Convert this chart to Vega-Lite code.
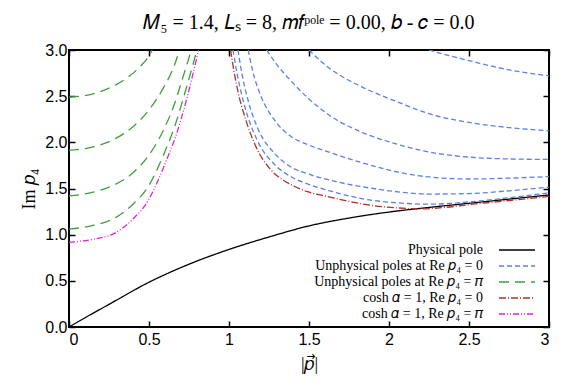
{
  "$schema": "https://vega.github.io/schema/vega-lite/v6.json",
  "width": 480,
  "height": 277,
  "autosize": {"type": "none"},
  "padding": {"left": 69, "top": 50, "right": 23, "bottom": 55},
  "background": "white",
  "title": {
    "text": "𝑀₅ = 1.4, 𝐿ₛ = 8, 𝑚𝑓ᵖᵒˡᵉ = 0.00, 𝑏 - 𝑐 = 0.0",
    "font": "Liberation Serif",
    "fontSize": 20,
    "fontWeight": "normal",
    "color": "black",
    "anchor": "middle",
    "frame": "group",
    "offset": 9
  },
  "config": {
    "view": {"stroke": "black", "strokeWidth": 2},
    "axis": {
      "domain": false,
      "grid": false,
      "tickColor": "black",
      "tickWidth": 1.5,
      "tickSize": -6,
      "labelFont": "Liberation Sans",
      "labelFontSize": 16,
      "labelColor": "black",
      "titleFont": "Liberation Serif",
      "titleFontSize": 18,
      "titleFontWeight": "normal",
      "titleColor": "black"
    },
    "legend": {
      "orient": "none",
      "legendX": 441,
      "legendY": 193,
      "labelFont": "Liberation Serif",
      "labelFontSize": 14,
      "labelColor": "black",
      "labelAlign": "right",
      "labelOffset": -41,
      "labelLimit": 400,
      "symbolType": "M-3,0H3",
      "symbolSize": 144,
      "symbolStrokeWidth": 1.3,
      "rowPadding": 2,
      "padding": 0
    }
  },
  "data": {
    "values": [
      {"s": "Physical pole", "c": "phys", "p": 0, "v": 0},
      {"s": "Physical pole", "c": "phys", "p": 0.1, "v": 0.1},
      {"s": "Physical pole", "c": "phys", "p": 0.25, "v": 0.245},
      {"s": "Physical pole", "c": "phys", "p": 0.5, "v": 0.485},
      {"s": "Physical pole", "c": "phys", "p": 0.75, "v": 0.68},
      {"s": "Physical pole", "c": "phys", "p": 1.0, "v": 0.84},
      {"s": "Physical pole", "c": "phys", "p": 1.25, "v": 0.975},
      {"s": "Physical pole", "c": "phys", "p": 1.5, "v": 1.095},
      {"s": "Physical pole", "c": "phys", "p": 1.75, "v": 1.18},
      {"s": "Physical pole", "c": "phys", "p": 2.0, "v": 1.245},
      {"s": "Physical pole", "c": "phys", "p": 2.25, "v": 1.295},
      {"s": "Physical pole", "c": "phys", "p": 2.5, "v": 1.34},
      {"s": "Physical pole", "c": "phys", "p": 2.75, "v": 1.385},
      {"s": "Physical pole", "c": "phys", "p": 3.0, "v": 1.43},

      {"s": "Unphysical poles at Re 𝑝₄ = 0", "c": "b1", "p": 2.25, "v": 3.0},
      {"s": "Unphysical poles at Re 𝑝₄ = 0", "c": "b1", "p": 2.35, "v": 2.95},
      {"s": "Unphysical poles at Re 𝑝₄ = 0", "c": "b1", "p": 2.5, "v": 2.885},
      {"s": "Unphysical poles at Re 𝑝₄ = 0", "c": "b1", "p": 2.75, "v": 2.785},
      {"s": "Unphysical poles at Re 𝑝₄ = 0", "c": "b1", "p": 3.0, "v": 2.72},

      {"s": "Unphysical poles at Re 𝑝₄ = 0", "c": "b2", "p": 1.5, "v": 3.0},
      {"s": "Unphysical poles at Re 𝑝₄ = 0", "c": "b2", "p": 1.56, "v": 2.9},
      {"s": "Unphysical poles at Re 𝑝₄ = 0", "c": "b2", "p": 1.63, "v": 2.8},
      {"s": "Unphysical poles at Re 𝑝₄ = 0", "c": "b2", "p": 1.73, "v": 2.69},
      {"s": "Unphysical poles at Re 𝑝₄ = 0", "c": "b2", "p": 1.83, "v": 2.6},
      {"s": "Unphysical poles at Re 𝑝₄ = 0", "c": "b2", "p": 2.05, "v": 2.44},
      {"s": "Unphysical poles at Re 𝑝₄ = 0", "c": "b2", "p": 2.25, "v": 2.31},
      {"s": "Unphysical poles at Re 𝑝₄ = 0", "c": "b2", "p": 2.5, "v": 2.215},
      {"s": "Unphysical poles at Re 𝑝₄ = 0", "c": "b2", "p": 2.75, "v": 2.16},
      {"s": "Unphysical poles at Re 𝑝₄ = 0", "c": "b2", "p": 3.0, "v": 2.125},

      {"s": "Unphysical poles at Re 𝑝₄ = 0", "c": "b3", "p": 1.235, "v": 3.0},
      {"s": "Unphysical poles at Re 𝑝₄ = 0", "c": "b3", "p": 1.3, "v": 2.84},
      {"s": "Unphysical poles at Re 𝑝₄ = 0", "c": "b3", "p": 1.39, "v": 2.66},
      {"s": "Unphysical poles at Re 𝑝₄ = 0", "c": "b3", "p": 1.5, "v": 2.47},
      {"s": "Unphysical poles at Re 𝑝₄ = 0", "c": "b3", "p": 1.63, "v": 2.29},
      {"s": "Unphysical poles at Re 𝑝₄ = 0", "c": "b3", "p": 1.83, "v": 2.11},
      {"s": "Unphysical poles at Re 𝑝₄ = 0", "c": "b3", "p": 2.05, "v": 1.98},
      {"s": "Unphysical poles at Re 𝑝₄ = 0", "c": "b3", "p": 2.25, "v": 1.895},
      {"s": "Unphysical poles at Re 𝑝₄ = 0", "c": "b3", "p": 2.5, "v": 1.84},
      {"s": "Unphysical poles at Re 𝑝₄ = 0", "c": "b3", "p": 2.75, "v": 1.82},
      {"s": "Unphysical poles at Re 𝑝₄ = 0", "c": "b3", "p": 3.0, "v": 1.815},

      {"s": "Unphysical poles at Re 𝑝₄ = 0", "c": "b4", "p": 1.12, "v": 3.0},
      {"s": "Unphysical poles at Re 𝑝₄ = 0", "c": "b4", "p": 1.15, "v": 2.76},
      {"s": "Unphysical poles at Re 𝑝₄ = 0", "c": "b4", "p": 1.2, "v": 2.5},
      {"s": "Unphysical poles at Re 𝑝₄ = 0", "c": "b4", "p": 1.285, "v": 2.24},
      {"s": "Unphysical poles at Re 𝑝₄ = 0", "c": "b4", "p": 1.39, "v": 2.06},
      {"s": "Unphysical poles at Re 𝑝₄ = 0", "c": "b4", "p": 1.5, "v": 1.97},
      {"s": "Unphysical poles at Re 𝑝₄ = 0", "c": "b4", "p": 1.63, "v": 1.89},
      {"s": "Unphysical poles at Re 𝑝₄ = 0", "c": "b4", "p": 1.83, "v": 1.78},
      {"s": "Unphysical poles at Re 𝑝₄ = 0", "c": "b4", "p": 2.05, "v": 1.68},
      {"s": "Unphysical poles at Re 𝑝₄ = 0", "c": "b4", "p": 2.25, "v": 1.625},
      {"s": "Unphysical poles at Re 𝑝₄ = 0", "c": "b4", "p": 2.5, "v": 1.603},
      {"s": "Unphysical poles at Re 𝑝₄ = 0", "c": "b4", "p": 2.75, "v": 1.612},
      {"s": "Unphysical poles at Re 𝑝₄ = 0", "c": "b4", "p": 3.0, "v": 1.63},

      {"s": "Unphysical poles at Re 𝑝₄ = 0", "c": "b5", "p": 1.056, "v": 3.0},
      {"s": "Unphysical poles at Re 𝑝₄ = 0", "c": "b5", "p": 1.08, "v": 2.75},
      {"s": "Unphysical poles at Re 𝑝₄ = 0", "c": "b5", "p": 1.12, "v": 2.45},
      {"s": "Unphysical poles at Re 𝑝₄ = 0", "c": "b5", "p": 1.18, "v": 2.15},
      {"s": "Unphysical poles at Re 𝑝₄ = 0", "c": "b5", "p": 1.285, "v": 1.88},
      {"s": "Unphysical poles at Re 𝑝₄ = 0", "c": "b5", "p": 1.39, "v": 1.73},
      {"s": "Unphysical poles at Re 𝑝₄ = 0", "c": "b5", "p": 1.49, "v": 1.66},
      {"s": "Unphysical poles at Re 𝑝₄ = 0", "c": "b5", "p": 1.63, "v": 1.59},
      {"s": "Unphysical poles at Re 𝑝₄ = 0", "c": "b5", "p": 1.83, "v": 1.52},
      {"s": "Unphysical poles at Re 𝑝₄ = 0", "c": "b5", "p": 2.05, "v": 1.465},
      {"s": "Unphysical poles at Re 𝑝₄ = 0", "c": "b5", "p": 2.25, "v": 1.44},
      {"s": "Unphysical poles at Re 𝑝₄ = 0", "c": "b5", "p": 2.5, "v": 1.445},
      {"s": "Unphysical poles at Re 𝑝₄ = 0", "c": "b5", "p": 2.75, "v": 1.475},
      {"s": "Unphysical poles at Re 𝑝₄ = 0", "c": "b5", "p": 3.0, "v": 1.515},

      {"s": "Unphysical poles at Re 𝑝₄ = 0", "c": "b6", "p": 1.025, "v": 3.0},
      {"s": "Unphysical poles at Re 𝑝₄ = 0", "c": "b6", "p": 1.05, "v": 2.75},
      {"s": "Unphysical poles at Re 𝑝₄ = 0", "c": "b6", "p": 1.1, "v": 2.38},
      {"s": "Unphysical poles at Re 𝑝₄ = 0", "c": "b6", "p": 1.18, "v": 2.01},
      {"s": "Unphysical poles at Re 𝑝₄ = 0", "c": "b6", "p": 1.285, "v": 1.76},
      {"s": "Unphysical poles at Re 𝑝₄ = 0", "c": "b6", "p": 1.39, "v": 1.625},
      {"s": "Unphysical poles at Re 𝑝₄ = 0", "c": "b6", "p": 1.49, "v": 1.55},
      {"s": "Unphysical poles at Re 𝑝₄ = 0", "c": "b6", "p": 1.63, "v": 1.475},
      {"s": "Unphysical poles at Re 𝑝₄ = 0", "c": "b6", "p": 1.83, "v": 1.39},
      {"s": "Unphysical poles at Re 𝑝₄ = 0", "c": "b6", "p": 2.05, "v": 1.345},
      {"s": "Unphysical poles at Re 𝑝₄ = 0", "c": "b6", "p": 2.25, "v": 1.33},
      {"s": "Unphysical poles at Re 𝑝₄ = 0", "c": "b6", "p": 2.5, "v": 1.355},
      {"s": "Unphysical poles at Re 𝑝₄ = 0", "c": "b6", "p": 2.75, "v": 1.4},
      {"s": "Unphysical poles at Re 𝑝₄ = 0", "c": "b6", "p": 3.0, "v": 1.453},

      {"s": "Unphysical poles at Re 𝑝₄ = 𝜋", "c": "g1", "p": 0, "v": 2.49},
      {"s": "Unphysical poles at Re 𝑝₄ = 𝜋", "c": "g1", "p": 0.15, "v": 2.525},
      {"s": "Unphysical poles at Re 𝑝₄ = 𝜋", "c": "g1", "p": 0.29, "v": 2.62},
      {"s": "Unphysical poles at Re 𝑝₄ = 𝜋", "c": "g1", "p": 0.38, "v": 2.72},
      {"s": "Unphysical poles at Re 𝑝₄ = 𝜋", "c": "g1", "p": 0.45, "v": 2.83},
      {"s": "Unphysical poles at Re 𝑝₄ = 𝜋", "c": "g1", "p": 0.49, "v": 2.91},
      {"s": "Unphysical poles at Re 𝑝₄ = 𝜋", "c": "g1", "p": 0.52, "v": 3.0},

      {"s": "Unphysical poles at Re 𝑝₄ = 𝜋", "c": "g2", "p": 0, "v": 1.915},
      {"s": "Unphysical poles at Re 𝑝₄ = 𝜋", "c": "g2", "p": 0.15, "v": 1.95},
      {"s": "Unphysical poles at Re 𝑝₄ = 𝜋", "c": "g2", "p": 0.29, "v": 2.04},
      {"s": "Unphysical poles at Re 𝑝₄ = 𝜋", "c": "g2", "p": 0.4, "v": 2.17},
      {"s": "Unphysical poles at Re 𝑝₄ = 𝜋", "c": "g2", "p": 0.495, "v": 2.34},
      {"s": "Unphysical poles at Re 𝑝₄ = 𝜋", "c": "g2", "p": 0.59, "v": 2.59},
      {"s": "Unphysical poles at Re 𝑝₄ = 𝜋", "c": "g2", "p": 0.66, "v": 2.84},
      {"s": "Unphysical poles at Re 𝑝₄ = 𝜋", "c": "g2", "p": 0.69, "v": 3.0},

      {"s": "Unphysical poles at Re 𝑝₄ = 𝜋", "c": "g3", "p": 0, "v": 1.42},
      {"s": "Unphysical poles at Re 𝑝₄ = 𝜋", "c": "g3", "p": 0.15, "v": 1.46},
      {"s": "Unphysical poles at Re 𝑝₄ = 𝜋", "c": "g3", "p": 0.29, "v": 1.545},
      {"s": "Unphysical poles at Re 𝑝₄ = 𝜋", "c": "g3", "p": 0.4, "v": 1.67},
      {"s": "Unphysical poles at Re 𝑝₄ = 𝜋", "c": "g3", "p": 0.49, "v": 1.84},
      {"s": "Unphysical poles at Re 𝑝₄ = 𝜋", "c": "g3", "p": 0.59, "v": 2.13},
      {"s": "Unphysical poles at Re 𝑝₄ = 𝜋", "c": "g3", "p": 0.66, "v": 2.42},
      {"s": "Unphysical poles at Re 𝑝₄ = 𝜋", "c": "g3", "p": 0.72, "v": 2.75},
      {"s": "Unphysical poles at Re 𝑝₄ = 𝜋", "c": "g3", "p": 0.765, "v": 3.0},

      {"s": "Unphysical poles at Re 𝑝₄ = 𝜋", "c": "g4", "p": 0, "v": 1.06},
      {"s": "Unphysical poles at Re 𝑝₄ = 𝜋", "c": "g4", "p": 0.15, "v": 1.1},
      {"s": "Unphysical poles at Re 𝑝₄ = 𝜋", "c": "g4", "p": 0.29, "v": 1.185},
      {"s": "Unphysical poles at Re 𝑝₄ = 𝜋", "c": "g4", "p": 0.4, "v": 1.33},
      {"s": "Unphysical poles at Re 𝑝₄ = 𝜋", "c": "g4", "p": 0.495, "v": 1.52},
      {"s": "Unphysical poles at Re 𝑝₄ = 𝜋", "c": "g4", "p": 0.59, "v": 1.86},
      {"s": "Unphysical poles at Re 𝑝₄ = 𝜋", "c": "g4", "p": 0.66, "v": 2.17},
      {"s": "Unphysical poles at Re 𝑝₄ = 𝜋", "c": "g4", "p": 0.73, "v": 2.57},
      {"s": "Unphysical poles at Re 𝑝₄ = 𝜋", "c": "g4", "p": 0.8, "v": 3.0},

      {"s": "cosh 𝛼 = 1, Re 𝑝₄ = 0", "c": "r", "p": 1.01, "v": 3.0},
      {"s": "cosh 𝛼 = 1, Re 𝑝₄ = 0", "c": "r", "p": 1.03, "v": 2.78},
      {"s": "cosh 𝛼 = 1, Re 𝑝₄ = 0", "c": "r", "p": 1.06, "v": 2.52},
      {"s": "cosh 𝛼 = 1, Re 𝑝₄ = 0", "c": "r", "p": 1.1, "v": 2.27},
      {"s": "cosh 𝛼 = 1, Re 𝑝₄ = 0", "c": "r", "p": 1.14, "v": 2.07},
      {"s": "cosh 𝛼 = 1, Re 𝑝₄ = 0", "c": "r", "p": 1.18, "v": 1.91},
      {"s": "cosh 𝛼 = 1, Re 𝑝₄ = 0", "c": "r", "p": 1.23, "v": 1.77},
      {"s": "cosh 𝛼 = 1, Re 𝑝₄ = 0", "c": "r", "p": 1.285, "v": 1.66},
      {"s": "cosh 𝛼 = 1, Re 𝑝₄ = 0", "c": "r", "p": 1.34, "v": 1.59},
      {"s": "cosh 𝛼 = 1, Re 𝑝₄ = 0", "c": "r", "p": 1.39, "v": 1.54},
      {"s": "cosh 𝛼 = 1, Re 𝑝₄ = 0", "c": "r", "p": 1.49, "v": 1.465},
      {"s": "cosh 𝛼 = 1, Re 𝑝₄ = 0", "c": "r", "p": 1.6, "v": 1.42},
      {"s": "cosh 𝛼 = 1, Re 𝑝₄ = 0", "c": "r", "p": 1.75, "v": 1.36},
      {"s": "cosh 𝛼 = 1, Re 𝑝₄ = 0", "c": "r", "p": 1.9, "v": 1.315},
      {"s": "cosh 𝛼 = 1, Re 𝑝₄ = 0", "c": "r", "p": 2.05, "v": 1.29},
      {"s": "cosh 𝛼 = 1, Re 𝑝₄ = 0", "c": "r", "p": 2.2, "v": 1.28},
      {"s": "cosh 𝛼 = 1, Re 𝑝₄ = 0", "c": "r", "p": 2.35, "v": 1.295},
      {"s": "cosh 𝛼 = 1, Re 𝑝₄ = 0", "c": "r", "p": 2.5, "v": 1.325},
      {"s": "cosh 𝛼 = 1, Re 𝑝₄ = 0", "c": "r", "p": 2.75, "v": 1.37},
      {"s": "cosh 𝛼 = 1, Re 𝑝₄ = 0", "c": "r", "p": 3.0, "v": 1.415},

      {"s": "cosh 𝛼 = 1, Re 𝑝₄ = 𝜋", "c": "m", "p": 0, "v": 0.917},
      {"s": "cosh 𝛼 = 1, Re 𝑝₄ = 𝜋", "c": "m", "p": 0.15, "v": 0.95},
      {"s": "cosh 𝛼 = 1, Re 𝑝₄ = 𝜋", "c": "m", "p": 0.29, "v": 1.02},
      {"s": "cosh 𝛼 = 1, Re 𝑝₄ = 𝜋", "c": "m", "p": 0.4, "v": 1.17},
      {"s": "cosh 𝛼 = 1, Re 𝑝₄ = 𝜋", "c": "m", "p": 0.495, "v": 1.37},
      {"s": "cosh 𝛼 = 1, Re 𝑝₄ = 𝜋", "c": "m", "p": 0.56, "v": 1.6},
      {"s": "cosh 𝛼 = 1, Re 𝑝₄ = 𝜋", "c": "m", "p": 0.626, "v": 1.88},
      {"s": "cosh 𝛼 = 1, Re 𝑝₄ = 𝜋", "c": "m", "p": 0.66, "v": 2.03},
      {"s": "cosh 𝛼 = 1, Re 𝑝₄ = 𝜋", "c": "m", "p": 0.74, "v": 2.5},
      {"s": "cosh 𝛼 = 1, Re 𝑝₄ = 𝜋", "c": "m", "p": 0.81, "v": 3.0}
    ]
  },
  "layer": [
    {
      "mark": {"type": "line", "strokeWidth": 1.3, "interpolate": "monotone", "clip": true},
      "encoding": {
        "x": {
          "field": "p", "type": "quantitative",
          "scale": {"domain": [0, 3], "nice": false, "zero": false},
          "axis": {"orient": "bottom", "values": [0, 0.5, 1, 1.5, 2, 2.5, 3], "format": "~g", "labelPadding": 10, "title": "|𝑝⃗|", "titlePadding": 8}
        },
        "y": {
          "field": "v", "type": "quantitative",
          "scale": {"domain": [0, 3], "nice": false, "zero": false},
          "axis": {"orient": "left", "values": [0, 0.5, 1, 1.5, 2, 2.5, 3], "format": ".1f", "labelPadding": 8, "title": "Im 𝑝₄", "titlePadding": 6}
        },
        "color": {
          "field": "s", "type": "nominal", "title": null,
          "scale": {
            "domain": ["Physical pole", "Unphysical poles at Re 𝑝₄ = 0", "Unphysical poles at Re 𝑝₄ = 𝜋", "cosh 𝛼 = 1, Re 𝑝₄ = 0", "cosh 𝛼 = 1, Re 𝑝₄ = 𝜋"],
            "range": ["#000000", "#5b80e8", "#3f9f3f", "#b0302a", "#e020e0"]
          }
        },
        "strokeDash": {
          "field": "s", "type": "nominal", "title": null,
          "scale": {
            "domain": ["Physical pole", "Unphysical poles at Re 𝑝₄ = 0", "Unphysical poles at Re 𝑝₄ = 𝜋", "cosh 𝛼 = 1, Re 𝑝₄ = 0", "cosh 𝛼 = 1, Re 𝑝₄ = 𝜋"],
            "range": [[1, 0], [5, 3], [10, 6], [7, 2, 1, 2], [6, 2, 1, 2, 1, 2]]
          }
        },
        "detail": {"field": "c"}
      }
    },
    {
      "mark": {"type": "point", "opacity": 0},
      "encoding": {
        "x": {"field": "p", "type": "quantitative", "axis": {"orient": "top", "values": [0, 0.5, 1, 1.5, 2, 2.5, 3], "labels": false, "title": null}},
        "y": {"field": "v", "type": "quantitative", "axis": {"orient": "right", "values": [0, 0.5, 1, 1.5, 2, 2.5, 3], "labels": false, "title": null}}
      }
    }
  ],
  "resolve": {"axis": {"x": "independent", "y": "independent"}}
}
